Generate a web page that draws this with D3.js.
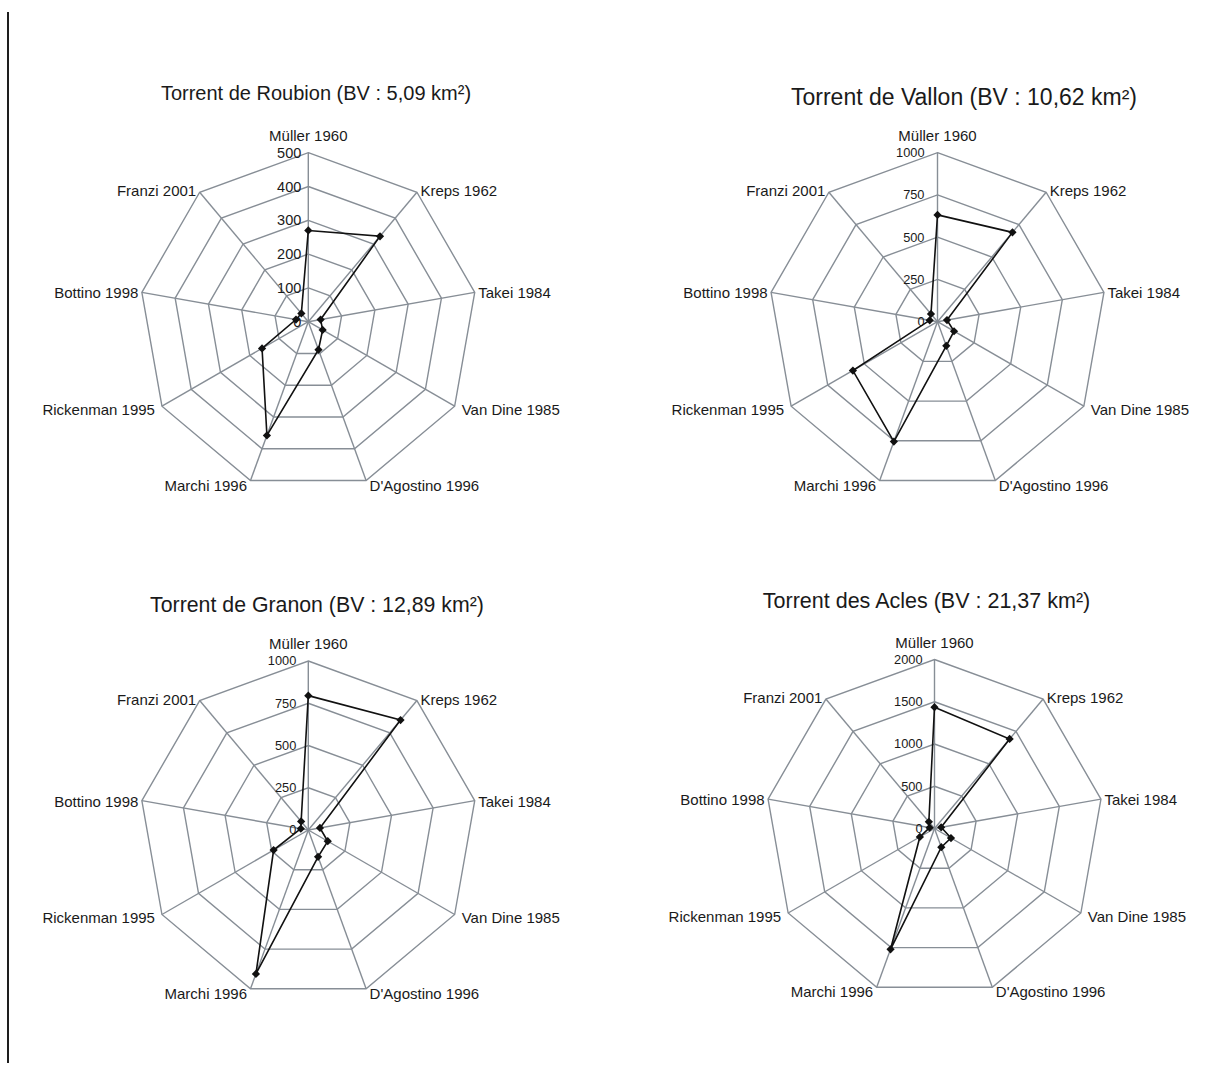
<!DOCTYPE html>
<html>
<head>
<meta charset="utf-8">
<script src="https://cdn.jsdelivr.net/npm/d3@7"></script>
<style>
  html, body { margin: 0; padding: 0; background: #ffffff; }
  svg { display: block; font-family: "Liberation Sans", Arial, sans-serif; }
</style>
</head>
<body>
<svg id="chart" width="1206" height="1065"></svg>
<script>
// Formula names, clockwise from the top spoke
const axes = ["Müller 1960", "Kreps 1962", "Takei 1984", "Van Dine 1985",
  "D'Agostino 1996", "Marchi 1996", "Rickenman 1995", "Bottino 1998", "Franzi 2001"];

const titles = [
  "Torrent de Roubion (BV : 5,09 km²)",
  "Torrent de Vallon (BV : 10,62 km²)",
  "Torrent de Granon (BV : 12,89 km²)",
  "Torrent des Acles (BV : 21,37 km²)"
];

// Estimated volumes per formula, one array per torrent
const roubion = [270, 330, 37, 49, 88, 358, 158, 37, 32];
const vallon  = [632, 690, 57, 113, 152, 755, 578, 47, 60];
const granon  = [795, 849, 70, 133, 169, 906, 237, 45, 66];
const acles   = [1436, 1383, 80, 225, 235, 1521, 200, 59, 104];

// Radial tick labels of each chart
const ticksRoubion = [0, 100, 200, 300, 400, 500];
const ticksVallon  = [0, 250, 500, 750, 1000];
const ticksGranon  = [0, 250, 500, 750, 1000];
const ticksAcles   = [0, 500, 1000, 1500, 2000];

const series = [roubion, vallon, granon, acles];
const tickSets = [ticksRoubion, ticksVallon, ticksGranon, ticksAcles];

// Placement of each radar on the page
const layout = [
  { cx: 308.3, cy: 321.7, tx: 316, ty: 100, titleSize: 20, tickSize: 14.5, tickGap: 7 },
  { cx: 937.5, cy: 321.7, tx: 964, ty: 105, titleSize: 23, tickSize: 12.8, tickGap: 13 },
  { cx: 308.3, cy: 830.0, tx: 317, ty: 612, titleSize: 21.3, tickSize: 12.8, tickGap: 12 },
  { cx: 934.5, cy: 828.5, tx: 926.5, ty: 608, titleSize: 21.5, tickSize: 12.8, tickGap: 12 }
];

const R = 169;
const gridColor = "#878e96";
const svg = d3.select("#chart");

// Left margin rule
svg.append("line")
  .attr("x1", 8).attr("x2", 8).attr("y1", 12).attr("y2", 1063)
  .attr("stroke", "#1e1e1e").attr("stroke-width", 2);

const angle = d3.scalePoint().domain(axes).range([0, 2 * Math.PI * (axes.length - 1) / axes.length]);

series.forEach((values, i) => {
  const L = layout[i];
  const ticks = tickSets[i];
  const rScale = d3.scaleLinear().domain([0, d3.max(ticks)]).range([0, R]);
  const g = svg.append("g").attr("transform", `translate(${L.cx},${L.cy})`);

  const pt = (a, r) => [r * Math.sin(angle(a)), -r * Math.cos(angle(a))];

  // Title
  svg.append("text")
    .attr("x", L.tx).attr("y", L.ty)
    .attr("text-anchor", "middle")
    .attr("font-size", L.titleSize)
    .attr("fill", "#1a1a1a")
    .text(titles[i]);

  // Rings
  const ring = d3.line();
  ticks.filter(t => t > 0).forEach(t => {
    g.append("path")
      .attr("d", ring(axes.map(a => pt(a, rScale(t)))) + "Z")
      .attr("fill", "none")
      .attr("stroke", gridColor)
      .attr("stroke-width", 1.4);
  });

  // Spokes
  axes.forEach(a => {
    const [x, y] = pt(a, R);
    g.append("line")
      .attr("x1", 0).attr("y1", 0).attr("x2", x).attr("y2", y)
      .attr("stroke", gridColor).attr("stroke-width", 1.4);
  });

  // Category labels at the spoke tips
  axes.forEach(a => {
    const th = angle(a);
    const [x, y] = pt(a, R);
    const s = Math.sin(th), c = Math.cos(th);
    const t = g.append("text")
      .attr("font-size", 15)
      .attr("fill", "#1a1a1a")
      .text(a);
    if (Math.abs(s) < 0.01) {
      t.attr("x", x).attr("y", y - 12).attr("text-anchor", "middle");
    } else {
      const side = s > 0 ? 1 : -1;
      const dx = side * (Math.abs(s) > 0.8 && c < 0 ? 7 : 3.5);
      const dy = 1.5 - 3.5 * c;
      t.attr("x", x + dx).attr("y", y + dy)
        .attr("dy", "0.35em")
        .attr("text-anchor", side > 0 ? "start" : "end");
    }
  });

  // Radial tick labels along the top spoke
  ticks.forEach(t => {
    g.append("text")
      .attr("x", -L.tickGap)
      .attr("y", -rScale(t))
      .attr("dy", "0.35em")
      .attr("text-anchor", "end")
      .attr("font-size", L.tickSize)
      .attr("fill", "#1a1a1a")
      .text(t);
  });

  // Data polygon
  const pts = axes.map((a, k) => pt(a, rScale(values[k])));
  g.append("path")
    .attr("d", d3.line()(pts) + "Z")
    .attr("fill", "none")
    .attr("stroke", "#111")
    .attr("stroke-width", 1.6);

  // Diamond markers
  const diamond = d3.symbol().type(d3.symbolSquare).size(34);
  g.selectAll("path.marker")
    .data(pts)
    .join("path")
    .attr("class", "marker")
    .attr("d", diamond)
    .attr("transform", d => `translate(${d[0]},${d[1]}) rotate(45)`)
    .attr("fill", "#111");
});
</script>
</body>
</html>
